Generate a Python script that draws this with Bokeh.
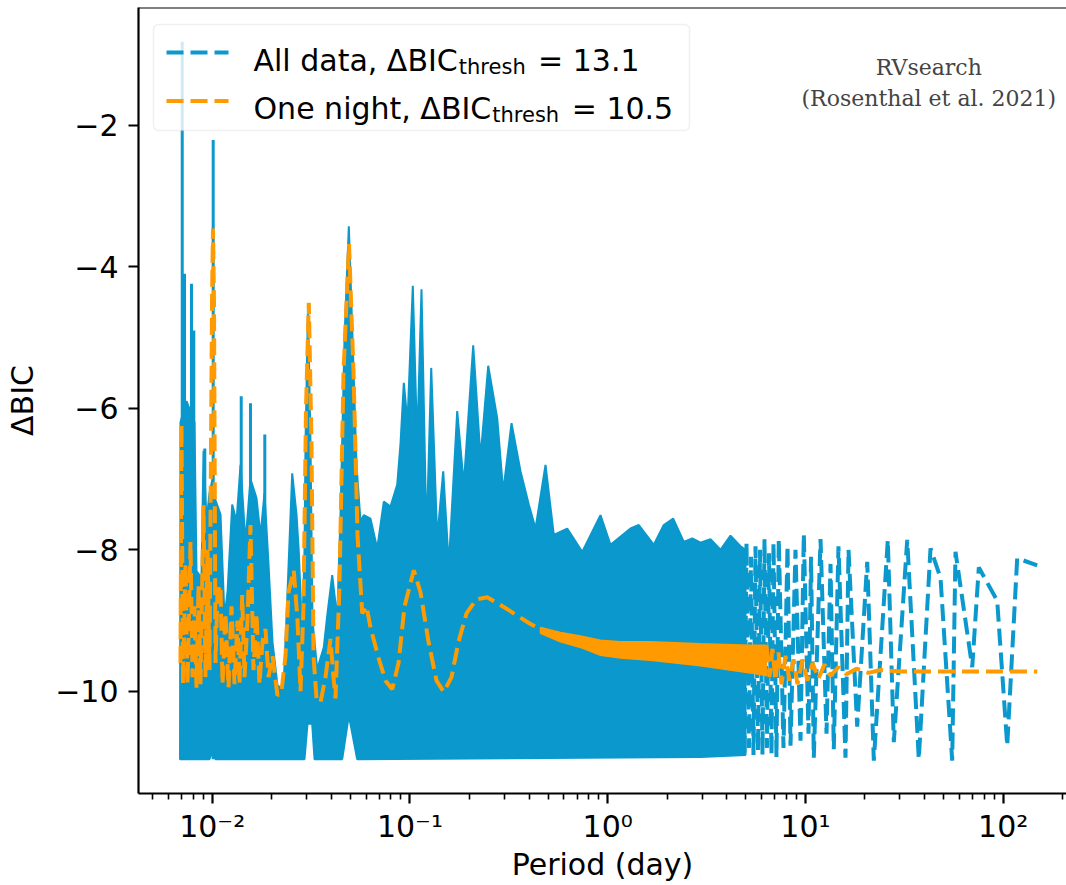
import numpy as np
from bokeh.plotting import figure
from bokeh.models import Range1d, FixedTicker, Label, BoxAnnotation, Span
from bokeh.embed import file_html
from bokeh.resources import INLINE

BLUE = "#0A98CD"
ORANGE = "#FF9A00"

# ---------------- data ----------------
# Blue ("All data") dense part: upper edge of the filled region
blue_body_period = [0.006876, 0.006911, 0.007416, 0.008137, 0.008329, 0.008828, 0.009037, 0.009358,
                    0.009691, 0.010035, 0.010392, 0.011014, 0.011539, 0.011951, 0.012624, 0.013274,
                    0.013907, 0.014735, 0.015616, 0.016749, 0.017549, 0.018385, 0.019261, 0.020177,
                    0.021387, 0.022938, 0.024033, 0.025384, 0.026688, 0.027412, 0.028518, 0.029293,
                    0.029636, 0.030512, 0.031413, 0.032153, 0.033963, 0.036669, 0.038286, 0.040450,
                    0.042875, 0.044557, 0.046682, 0.049078, 0.051241, 0.053683, 0.056226, 0.058428,
                    0.063168, 0.068307, 0.073766, 0.079734, 0.086219, 0.089598, 0.093109, 0.097208,
                    0.10337, 0.10881, 0.11440, 0.12127, 0.12809, 0.13736, 0.14731, 0.15725,
                    0.17338, 0.18720, 0.20889, 0.22741, 0.24875, 0.27622, 0.29621, 0.32629,
                    0.36229, 0.39903, 0.43141, 0.48473, 0.53388, 0.62404, 0.74309, 0.91934,
                    1.0331, 1.3041, 1.4364, 1.7107, 1.9217, 2.1441, 2.4261, 2.6753, 2.9465,
                    3.310, 3.719, 4.178, 4.694, 4.975]
blue_body_top = [-10.96, -6.2, -5.9, -6.2, -8.3, -8.4, -6.6, -7.6,
                 -7.2, -7.0, -7.3, -7.5, -8.95, -8.6, -7.36, -7.6,
                 -6.8, -7.9, -7.0, -7.27, -7.8, -7.2, -8.2, -9.3,
                 -9.92, -9.97, -8.6, -6.92, -7.5, -8.03, -9.2, -8.0,
                 -6.5, -4.55, -6.5, -9.0, -9.69, -9.38, -8.9, -8.36,
                 -8.97, -7.5, -5.0, -3.43, -5.0, -6.8, -7.6, -7.51,
                 -7.56, -7.98, -7.32, -7.39, -7.08, -6.5, -5.64, -6.2,
                 -4.27, -6.5, -4.32, -7.84, -5.43, -7.84, -6.89, -8.22,
                 -6.04, -7.08, -5.11, -6.70, -5.40, -6.14, -7.18, -6.21,
                 -6.89, -7.36, -7.70, -6.80, -7.79, -7.70, -8.03, -7.51,
                 -7.93, -7.70, -7.65, -7.93, -7.65, -7.56, -7.89, -7.84, -7.9,
                 -7.85, -8.0, -7.8, -7.95, -8.0]
# lower edge of the filled region
blue_floor_period = [0.006876, 0.009691, 0.010035, 0.010392, 0.029293, 0.030334, 0.032041,
                     0.032911, 0.045448, 0.049078, 0.054121, 2.9465, 4.975]
blue_floor_value = [-10.96, -10.96, -10.85, -10.96, -10.96, -10.46, -10.46,
                    -10.96, -10.96, -10.34, -10.96, -10.93, -10.9]
# narrow tall spikes in the dense part
blue_spike_period = [0.007054, 0.007244, 0.007857, 0.008071, 0.009175, 0.010117, 0.014021, 0.015616, 0.018449]
blue_spike_top = [-0.82, -4.1, -4.24, -4.9, -6.57, -2.21, -5.83, -5.93, -6.37]
blue_spike_base = [-10.96, -10.96, -10.96, -10.96, -10.96, -10.96, -10.96, -10.96, -10.96]
# sparse (long-period) part: troughs and peaks
blue_osc_period = [4.429, 4.533, 4.667, 4.777, 4.918, 5.034, 5.182, 5.304, 5.461, 5.590,
                   5.755, 5.890, 6.064, 6.207, 6.391, 6.541, 6.733, 6.893,
                   7.136, 7.330, 7.745, 8.114, 8.403, 8.905, 9.441,
                   9.810, 10.36, 10.67, 11.02, 11.92, 12.78, 13.39, 13.91, 14.69, 15.94, 16.51, 18.27,
                   20.53, 22.17, 26.09, 27.98, 32.71, 37.43, 42.90, 48.20, 55.22, 57.38, 69.72, 75.28,
                   93.25, 104.8, 117.7, 148.6]
blue_osc_value = [-10.9, -7.95, -10.85, -8.05, -10.9, -7.9, -10.8, -8.1, -10.9, -7.95,
                  -10.85, -8.0, -10.9, -7.85, -10.8, -8.05, -10.9, -7.9,
                  -10.93, -7.85, -10.8, -7.95, -10.77, -8.0, -10.7,
                  -7.78, -10.6, -8.1, -10.94, -7.85, -10.6, -8.2, -10.82, -7.95, -10.94, -8.0, -10.5,
                  -8.17, -10.98, -7.86, -10.72, -7.86, -10.96, -7.98, -8.4, -10.98, -8.03, -9.66, -8.25,
                  -8.72, -10.77, -8.12, -8.22]

# Orange ("One night") short-period part and smooth curve
orange_period = [0.006911, 0.006994, 0.007117, 0.007328, 0.007501, 0.007768, 0.007951, 0.008137,
                 0.008329, 0.008525, 0.008726, 0.009037, 0.009250, 0.009468, 0.009691, 0.009977,
                 0.010094, 0.010212, 0.010392, 0.010636, 0.011014, 0.011274, 0.011675, 0.012090,
                 0.012520, 0.012965, 0.013426, 0.013743, 0.014182, 0.014566, 0.015083, 0.015616,
                 0.016172, 0.016749, 0.017345, 0.017961, 0.018600, 0.019261, 0.020177, 0.021387,
                 0.022410, 0.023478, 0.024311, 0.025856, 0.027003, 0.027960, 0.028953, 0.029810,
                 0.030799, 0.031780, 0.032530, 0.033686, 0.035289, 0.037405, 0.039648, 0.041055,
                 0.042024, 0.044026, 0.046125, 0.049192, 0.051842, 0.054311, 0.057366, 0.060298,
                 0.063168, 0.069595, 0.075242, 0.081341, 0.087557, 0.093855, 0.10458, 0.11307,
                 0.12413, 0.13625, 0.14833, 0.16223, 0.17604, 0.19317, 0.21706, 0.24587,
                 0.28704, 0.34864, 0.40700, 0.47522]
orange_value = [-9.6, -6.23, -9.9, -8.2, -9.9, -7.89, -9.8, -8.8,
                -9.95, -8.5, -9.9, -7.37, -9.8, -8.0, -9.7, -4.5,
                -3.46, -4.5, -9.6, -8.6, -8.5, -9.9, -8.9, -9.95,
                -8.8, -9.9, -9.0, -9.9, -8.64, -9.8, -9.0, -7.65,
                -9.7, -8.9, -9.9, -9.3, -9.12, -9.8, -9.5, -10.06,
                -10.0, -9.5, -8.6, -8.29, -9.0, -10.0, -8.8, -6.0,
                -4.51, -6.5, -9.5, -10.1, -10.16, -9.8, -9.26, -9.8,
                -10.1, -8.5, -5.5, -3.68, -5.5, -7.8, -8.9, -8.8,
                -9.1, -9.54, -9.85, -9.97, -9.6, -8.8, -8.29, -8.6,
                -9.3, -9.85, -10.01, -9.8, -9.3, -8.9, -8.7, -8.67,
                -8.78, -8.93, -9.05, -9.14]
# band of fast oscillation (0.45 - 6.4 days)
orange_band_period = [0.4572, 0.5771, 0.7285, 0.9196, 1.161, 1.646, 2.947, 5.275, 6.352]
orange_band_top = [-9.10, -9.17, -9.22, -9.28, -9.30, -9.30, -9.33, -9.35, -9.35]
orange_band_bottom = [-9.18, -9.30, -9.38, -9.49, -9.53, -9.56, -9.64, -9.74, -9.78]
# long-period tail
orange_tail_period = [6.352, 6.578, 6.812, 7.056, 7.306, 7.566, 7.928, 8.306, 8.702, 9.117, 9.663,
                      10.24, 10.86, 11.64, 12.48, 13.39, 14.69, 16.12, 18.12, 20.84, 23.97, 30.25,
                      60.84, 148.6]
orange_tail_value = [-9.35, -9.8, -9.4, -9.85, -9.45, -9.9, -9.5, -9.85, -9.55, -9.9, -9.55,
                     -9.85, -9.6, -9.82, -9.62, -9.78, -9.66, -9.76, -9.68, -9.74, -9.70, -9.72,
                     -9.72, -9.72]

x_major_ticks = [0.01, 0.1, 1, 10, 100]
x_major_labels = ["10\u207b\u00b2", "10\u207b\u00b9", "10\u2070", "10\u00b9", "10\u00b2"]
y_major_ticks = [-10, -8, -6, -4, -2]

legend_labels = ["All data, \u0394BIC", "One night, \u0394BIC"]
legend_values = ["= 13.1", "= 10.5"]

# ---------------- layout ----------------
W, H = 1066, 885
L, T, B = 138, 7, 92
FW = W - L
FH = H - T - B
LX0, LX1 = -2.37269, 2.32011
X_LO, X_HI = 10 ** LX0, 10 ** LX1
Y_HI = -0.3366
Y_LO = Y_HI - FH / 70.76

FONT = "DejaVu Sans"
FS = 30          # main font size (px)
FS_SUB = 21      # sub/superscript size (px)
LW = 4           # data line width
DASH = "17 7"


def px2x(px):
    return 10 ** (LX0 + (px - L) / FW * (LX1 - LX0))


def px2y(py):
    return Y_HI - (py - T) / FH * (Y_HI - Y_LO)


def text_width(s, size):
    widths = {"A": .684, "l": .278, " ": .318, "d": .635, "a": .613, "t": .392, ",": .318,
              "\u0394": .684, "B": .686, "I": .295, "C": .698, "O": .787, "n": .634, "e": .615,
              "i": .278, "g": .635, "h": .634}
    return sum(widths[c] for c in s) * size


p = figure(width=W, height=H, x_axis_type="log",
           x_range=Range1d(X_LO, X_HI), y_range=Range1d(Y_LO, Y_HI),
           output_backend="svg", toolbar_location=None,
           min_border_left=L, min_border_right=0, min_border_top=T, min_border_bottom=B)
p.outline_line_color = None
p.grid.visible = False
p.background_fill_color = "white"
p.border_fill_color = "white"

for ax in (p.xaxis[0], p.yaxis[0]):
    ax.axis_line_color = "black"
    ax.axis_line_width = 2.2
    ax.major_tick_line_color = "black"
    ax.major_tick_line_width = 2.2
    ax.major_tick_out = 10
    ax.major_tick_in = 0
    ax.minor_tick_line_color = "black"
    ax.minor_tick_line_width = 1.6
    ax.minor_tick_out = 6
    ax.minor_tick_in = 0
    ax.axis_label_text_font = FONT
    ax.axis_label_text_font_size = f"{FS}px"
    ax.axis_label_text_font_style = "normal"
    ax.axis_label_text_color = "black"
    ax.major_label_text_font = FONT
    ax.major_label_text_font_size = f"{FS}px"
    ax.major_label_text_color = "black"

minor = [m * 10.0 ** e for e in range(-3, 3) for m in range(2, 10)]
p.xaxis.ticker = FixedTicker(ticks=x_major_ticks, minor_ticks=minor)
p.xaxis.major_label_overrides = dict(zip(x_major_ticks, x_major_labels))
p.xaxis.major_label_standoff = 5
p.xaxis.axis_label = "Period (day)"
p.xaxis.axis_label_standoff = 0

p.yaxis.ticker = FixedTicker(ticks=y_major_ticks, minor_ticks=[])
p.yaxis.major_label_overrides = {t: "\u2212" + str(abs(t)) for t in y_major_ticks}
p.yaxis.major_label_standoff = 10
p.yaxis.axis_label = "\u0394BIC"
p.yaxis.axis_label_standoff = 12

p.add_layout(Span(location=Y_HI, dimension="width", line_color="black", line_width=2.2))

# ---------------- data glyphs ----------------
p.patch(blue_body_period + blue_floor_period[::-1], blue_body_top + blue_floor_value[::-1],
        fill_color=BLUE, line_color=BLUE, line_width=2)
p.segment(x0=blue_spike_period, y0=blue_spike_base, x1=blue_spike_period, y1=blue_spike_top,
          line_color=BLUE, line_width=3)
p.line(blue_osc_period, blue_osc_value, line_color=BLUE, line_width=LW, line_dash=DASH)

p.line(orange_period, orange_value, line_color=ORANGE, line_width=LW, line_dash=DASH)
p.patch(orange_band_period + orange_band_period[::-1], orange_band_top + orange_band_bottom[::-1],
        fill_color=ORANGE, line_color=ORANGE, line_width=1.5)
p.line(orange_tail_period, orange_tail_value, line_color=ORANGE, line_width=LW, line_dash=DASH)

# ---------------- legend ----------------
p.add_layout(BoxAnnotation(left=px2x(153), right=px2x(689), top=px2y(24), bottom=px2y(130),
                           fill_color="white", fill_alpha=0.8, line_color="#cccccc",
                           line_width=1.5, border_radius=5))
row_base = [60, 108.3]
row_line = [52, 100.5]
row_end = [639, 672.7]
for i, col in enumerate([BLUE, ORANGE]):
    p.line([px2x(166), px2x(228)], [px2y(row_line[i]), px2y(row_line[i])], line_color=col,
           line_width=LW, line_dash=DASH, level="overlay")
    p.add_layout(Label(x=px2x(253), y=px2y(row_base[i]), text=legend_labels[i], text_font=FONT,
                       text_font_size=f"{FS}px", text_color="black", text_align="left",
                       text_baseline="alphabetic", level="overlay"))
    p.add_layout(Label(x=px2x(253), y=px2y(row_base[i] + 6), x_offset=text_width(legend_labels[i], FS) + 1,
                       text="thresh", text_font=FONT, text_font_size=f"{FS_SUB}px", text_color="black",
                       text_align="left", text_baseline="alphabetic", level="overlay"))
    p.add_layout(Label(x=px2x(row_end[i]), y=px2y(row_base[i]), text=legend_values[i], text_font=FONT,
                       text_font_size=f"{FS}px", text_color="black", text_align="right",
                       text_baseline="alphabetic", level="overlay"))

# credit text
p.add_layout(Label(x=px2x(928.3), y=px2y(66.7), text="RVsearch", text_font="DejaVu Serif",
                   text_font_size="22px", text_color="#444444", text_align="center",
                   text_baseline="alphabetic"))
p.add_layout(Label(x=px2x(928.3), y=px2y(98.3), text="(Rosenthal et al. 2021)", text_font="DejaVu Serif",
                   text_font_size="22px", text_color="#444444", text_align="center",
                   text_baseline="alphabetic"))

open("out.html", "w").write(file_html(p, INLINE))
